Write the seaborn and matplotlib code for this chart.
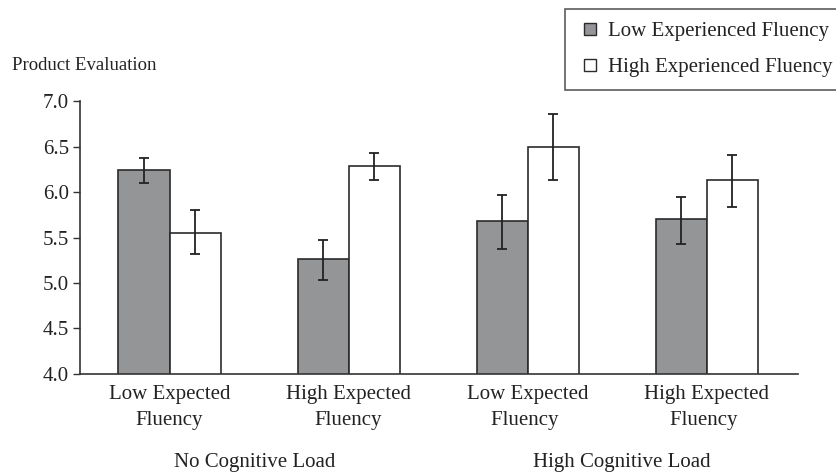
import matplotlib
matplotlib.use("Agg")
import matplotlib.pyplot as plt
from matplotlib.lines import Line2D
import pandas as pd
import seaborn as sns

# data
conditions = ["Low Expected\nFluency", "High Expected\nFluency",
              "Low Expected\nFluency ", "High Expected\nFluency "]
series = ["Low Experienced Fluency", "High Experienced Fluency"]
low_means = [6.24, 5.26, 5.68, 5.70]
high_means = [5.55, 6.29, 6.50, 6.13]
low_err_lo = [6.10, 5.03, 5.37, 5.43]
low_err_hi = [6.37, 5.47, 5.97, 5.95]
high_err_lo = [5.32, 6.13, 6.13, 5.83]
high_err_hi = [5.80, 6.43, 6.86, 6.41]
load_labels = ["No Cognitive Load", "High Cognitive Load"]

sns.set_style("ticks")
plt.rcParams["font.family"] = ["Liberation Serif", "DejaVu Serif"]

df = pd.DataFrame({
    "condition": conditions * 2,
    "series": [series[0]] * 4 + [series[1]] * 4,
    "value": low_means + high_means,
})

fig = plt.figure(figsize=(8.36, 4.76), dpi=100)
ax = fig.add_axes([0.0957, 0.2143, 0.8588, 0.5735])

colors = {series[0]: "#939598", series[1]: "#ffffff"}
sns.barplot(data=df, x="condition", y="value", hue="series", palette=colors,
            order=conditions, hue_order=series, errorbar=None, width=0.57,
            edgecolor="#2b2b2b", linewidth=1.2, legend=False, ax=ax)

# error bars at the bar centers seaborn placed
bars = [p for p in ax.patches if p.get_height() > 0]
means = low_means + high_means
lo = low_err_lo + high_err_lo
hi = low_err_hi + high_err_hi
for bar, m, l, h in zip(bars, means, lo, hi):
    x = bar.get_x() + bar.get_width() / 2
    ax.errorbar(x, m, yerr=[[m - l], [h - m]], color="#222222",
                elinewidth=1.3, capsize=3.3, capthick=1.3)

ax.set_ylim(4.0, 7.0)
ax.set_xlim(-0.5, 3.51)
ax.set_yticks([4.0, 4.5, 5.0, 5.5, 6.0, 6.5, 7.0])
ax.set_yticklabels([f"{v:.1f}" for v in [4.0, 4.5, 5.0, 5.5, 6.0, 6.5, 7.0]])
ax.tick_params(axis="y", labelsize=15, length=5, width=1, color="#333333",
               pad=3, labelcolor="#222222")
ax.tick_params(axis="x", labelsize=15, length=0, pad=8, labelcolor="#222222")
for t in ax.get_xticklabels():
    t.set_linespacing(1.5)
ax.set_xlabel("")
ax.set_ylabel("")
for s in ["top", "right"]:
    ax.spines[s].set_visible(False)
for s in ["left", "bottom"]:
    ax.spines[s].set_color("#333333")
    ax.spines[s].set_linewidth(1.2)

fig.text(12 / 836, 1 - 65 / 476, "Product Evaluation", fontsize=13.5,
         va="center", ha="left", color="#222222")
fig.text(255 / 836, 1 - 463 / 476, load_labels[0], fontsize=15,
         ha="center", va="center", color="#222222")
fig.text(622 / 836, 1 - 463 / 476, load_labels[1], fontsize=15,
         ha="center", va="center", color="#222222")

handles = [Line2D([], [], marker="s", linestyle="", markersize=8,
                  markerfacecolor=colors[s], markeredgecolor="#2b2b2b",
                  markeredgewidth=1) for s in series]
leg = fig.legend(handles, series, loc="upper left",
                 bbox_to_anchor=(565 / 836, 1 - 9 / 476), fontsize=15,
                 frameon=True, fancybox=False, handlelength=1.2,
                 handletextpad=0.25, labelspacing=0.8,
                 borderpad=0.6, borderaxespad=0)
leg.get_frame().set_edgecolor("#333333")
leg.get_frame().set_linewidth(1.2)
for t in leg.get_texts():
    t.set_color("#222222")

fig.savefig("out.png", dpi=100)
